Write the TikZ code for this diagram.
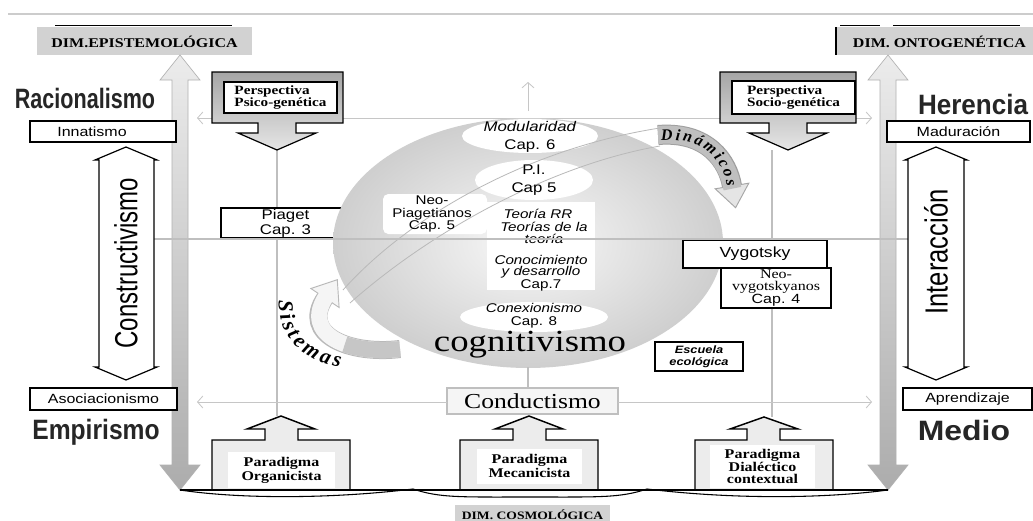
\documentclass[tikz,border=0pt]{standalone}
\usepackage{fontspec}
\setmainfont{Liberation Serif}
\setsansfont{Liberation Sans}
\usepackage{graphicx}
\usetikzlibrary{arrows.meta,decorations.text,shapes.geometric}
\newcommand\sx[1]{\scalebox{1.2}[1]{#1}}
\newcommand\fs[2]{\fontsize{#1}{#2}\selectfont}
\begin{document}
\begin{tikzpicture}[x=0.75pt,y=-0.75pt,
  every node/.style={inner sep=0pt,outer sep=0pt,align=center},
  lbox/.style={draw=black,fill=white,line width=0.9pt},
  dimbox/.style={fill=gray!35},
  dimtxt/.style={font=\rmfamily\bfseries\fs{10}{10}},
  gline/.style={draw=gray!50,line width=1.2pt},
  thinline/.style={draw=gray!50,line width=0.8pt},
  axisline/.style={draw=gray!45,line width=0.6pt},
  barbs/.style={arrows={Straight Barb[length=4pt,width=9pt]-Straight Barb[length=4pt,width=9pt]}},
  barbend/.style={arrows={-Straight Barb[length=4pt,width=9pt]}},
  bigarrow/.style={top color=gray!15,bottom color=gray!65,draw=gray!60,line width=0.5pt},
  outarrow/.style={draw=black,fill=white,line width=0.9pt},
  callout/.style={top color=gray!70,bottom color=gray!20,draw=black,line width=0.9pt},
  pblock/.style={draw=black,fill=gray!15,line width=1.1pt},
  head/.style={font=\sffamily\bfseries\fs{21}{21},text=black!85},
  ptxt/.style={font=\rmfamily\bfseries\fs{10}{10.5}},
  sans/.style={font=\sffamily\fs{10}{10}},
]
\useasboundingbox (0,0) rectangle (1033,521);
\fill[white] (0,0) rectangle (1033,521);

% top rule
\coordinate (tl) at (8,14); \coordinate (tr) at (1033,14);
\draw[gray!40,line width=1.3pt] (tl) -- (tr);

% dimension boxes
\node[dimbox,minimum width=161.25pt,minimum height=21pt] (epis) at (144.5,41) {};
\node[dimtxt] (epist) at (144.5,41.5) {\sx{DIM.EPISTEMOLÓGICA}};
\coordinate (ea) at (55,25); \coordinate (eb) at (232,25);
\draw[line width=0.6pt] (ea) -- (eb);
\node[dimbox,minimum width=147.75pt,minimum height=21pt] (onto) at (934.5,41) {};
\draw[black,line width=1.5pt] (onto.north west) -- (onto.south west);
\node[dimtxt] (ontot) at (939.5,41.5) {\sx{DIM. ONTOGENÉTICA}};
\coordinate (oa) at (840,25); \coordinate (ob) at (880,25);
\coordinate (oc) at (893,25); \coordinate (od) at (1020,25);
\draw[line width=0.6pt] (oa) -- (ob) (oc) -- (od);

% big grey double arrows
\draw[bigarrow] (180,55) -- (200,80) -- (188,80) -- (188,465) -- (200,465) -- (180,490) -- (160,465) -- (172,465) -- (172,80) -- (160,80) -- cycle;
\draw[bigarrow] (888,55) -- (908,80) -- (896,80) -- (896,465) -- (908,465) -- (888,490) -- (868,465) -- (880,465) -- (880,80) -- (868,80) -- cycle;

% axis lines
\coordinate (h1l) at (197,118); \coordinate (h1r) at (872,118);
\draw[axisline,barbs] (h1l) -- (h1r);
\coordinate (upb) at (528,111); \coordinate (upt) at (528,82);
\draw[axisline,barbend] (upb) -- (upt);
\coordinate (h3l) at (197,402); \coordinate (h3r) at (872,402);

% vertical lines
\coordinate (psitip) at (277,150); \coordinate (orgtop) at (277,416);
\draw[thinline] (psitip) -- (orgtop);
\coordinate (soctip) at (772,150); \coordinate (dialtop) at (772,417);
\draw[thinline] (soctip) -- (dialtop);

% Piaget
\node[lbox,minimum width=96.75pt,minimum height=22.5pt,font=\sffamily\fs{10.5}{11.3}] (piag) at (285.5,223) {\sx{Piaget}\\\sx{Cap. 3}};

% central ellipse
\shade[inner color=gray!5,outer color=gray!38] (528,243) ellipse [x radius=195,y radius=125];

% Sistemas arrow
\coordinate (s0) at (400,349); \coordinate (s1) at (325,298);
\draw[gray!55,line width=13.5pt] (s0) .. controls (350,355) and (300,335) .. (s1);
\draw[fill=gray!8,draw=gray!55,line width=0.7pt] (310.9,288.5) -- (337.3,279.7) -- (339.1,307.5) -- cycle;
\draw[gray!8,line width=12pt,shorten >=-2pt] (s0) .. controls (350,355) and (300,335) .. (s1);
\draw[gray!45,line width=12pt] (400,349) .. controls (380,351.4) and (360,349.6) .. (344.8,344.3);
\path[decorate,decoration={text along path,text align=fit to path,text={|\rmfamily\bfseries\itshape\fs{16}{16}|Sistemas}}] (279,300) .. controls (277,332) and (298,360) .. (340,367);

% Dinamicos arrow
\coordinate (d0) at (658,135); \coordinate (d1) at (732,186);
\draw[gray!75,line width=15pt] (d0) .. controls (708,131) and (728,162) .. (d1);
\draw[fill=gray!20,draw=gray!70,line width=0.7pt] (715.2,188.8) -- (735.6,207.7) -- (748.8,183.2) -- cycle;
\draw[gray!50,line width=13.5pt,shorten >=-2pt] (d0) .. controls (708,131) and (728,162) .. (d1);
\path[decorate,decoration={text along path,text align=fit to path,raise=-4pt,text={|\rmfamily\bfseries\itshape\fs{12}{12}|Dinámicos}}] (661,135) .. controls (708,131) and (729,160) .. (732,186);

% white shapes inside
\node[ellipse,fill=white,minimum width=102pt,minimum height=25.5pt] (modu) at (530,136) {};
\node[ellipse,fill=white,minimum width=88.5pt,minimum height=30pt] (pi) at (534,180) {};
\node[fill=white,rounded corners=4pt,minimum width=78pt,minimum height=30pt] (neop) at (435,214) {};
\node[fill=white,minimum width=81pt,minimum height=66pt] (teor) at (541,246) {};
\node[ellipse,fill=white,minimum width=111pt,minimum height=22.5pt] (conx) at (534,317) {};

% orbit lines
\coordinate (oa1) at (343,290); \coordinate (oa2) at (660,128);
\coordinate (ob1) at (350,303); \coordinate (ob2) at (660,146);
\draw[gray!55,line width=0.6pt] (oa1) .. controls (410,215) and (530,148) .. (oa2);
\draw[gray!55,line width=0.6pt] (ob1) .. controls (430,232) and (550,165) .. (ob2);

% texts in the ellipse
\node[font=\sffamily\fs{10.5}{14}] (modut) at (530,137) {\sx{\textit{Modularidad}}\\\sx{Cap. 6}};
\node[font=\sffamily\fs{10.5}{14}] (pit) at (534,180) {\sx{P.I.}\\\sx{Cap 5}};
\node[font=\sffamily\fs{9.5}{9.5}] (neopt) at (432,214) {\sx{Neo-}\\\sx{Piagetianos}\\\sx{Cap. 5}};
\node[font=\sffamily\itshape\fs{9.5}{9.5}] (teort1) at (538,214) {\sx{Teoría RR}};
\node[font=\sffamily\itshape\fs{9.5}{9.5}] (teort2) at (544,233) {\sx{Teorías de la}\\\sx{teoría}};
\node[font=\sffamily\fs{9.5}{8.5}] (conoc) at (541,273) {\sx{\textit{Conocimiento}}\\\sx{\textit{y desarrollo}}\\\sx{Cap.7}};
\node[font=\sffamily\fs{9.5}{9.5}] (conext) at (534,316) {\sx{\textit{Conexionismo}}\\\sx{Cap. 8}};
\node[font=\rmfamily\fs{23}{23},anchor=base] (cog) at (530,351) {\sx{cognitivismo}};

% right boxes
\node[lbox,minimum width=108pt,minimum height=21pt,font=\sffamily\fs{11}{11}] (vygo) at (755,254) {\sx{Vygotsky}};
\node[lbox,minimum width=82.5pt,minimum height=30pt,font=\rmfamily\fs{10}{9}] (neov) at (776,288) {\sx{Neo-}\\\sx{vygotskyanos}\\{\sffamily\sx{Cap. 4}}};
\node[lbox,line width=1.4pt,minimum width=66pt,minimum height=21.75pt,font=\sffamily\bfseries\itshape\fs{8}{9}] (escu) at (699,356.5) {\sx{Escuela}\\\sx{ecológica}};

% middle line
\coordinate (h2l) at (154,239); \coordinate (h2r) at (908,239);
\draw[gline] (h2l) -- (h2r);

% Conductismo
\node[draw=gray!50,fill=gray!8,line width=0.8pt,minimum width=128.25pt,minimum height=19.5pt,font=\rmfamily\fs{16}{16}] (cond) at (532.5,401) {\sx{Conductismo}};
\coordinate (cogb) at (528,367);
\draw[thinline] (cogb) -- (cogb |- cond.north);
\draw[axisline,barbend] (h3l -| cond.west) -- (h3l);
\draw[axisline,barbend] (h3r -| cond.east) -- (h3r);

% perspective callouts
\draw[callout] (212,72) -- (343,72) -- (343,123) -- (296,123) -- (296,133) -- (316,133) -- (277,150) -- (238,133) -- (258,133) -- (258,123) -- (212,123) -- cycle;
\node[lbox,minimum width=84.75pt,minimum height=23.25pt,font=\rmfamily\bfseries\fs{9.5}{9},align=left] (psi) at (280.5,97.5) {\sx{Perspectiva}\\\sx{Psico-genética}};
\draw[callout] (720,72) -- (856,72) -- (856,123) -- (807,123) -- (807,133) -- (827,133) -- (788,150) -- (749,133) -- (769,133) -- (769,123) -- (720,123) -- cycle;
\node[lbox,minimum width=92.25pt,minimum height=24.75pt,font=\rmfamily\bfseries\fs{9.5}{9},align=left] (soc) at (793.5,97.5) {\sx{Perspectiva}\\\sx{Socio-genética}};

% paradigm blocks
\draw[pblock] (212,490) -- (212,440) -- (265,440) -- (265,429) -- (247,429) -- (281,416) -- (315,429) -- (298,429) -- (298,440) -- (350,440) -- (350,490) -- cycle;
\node[fill=white,minimum width=80.25pt,minimum height=27pt,ptxt] (org) at (281.5,470) {\sx{Paradigma}\\\sx{Organicista}};
\draw[pblock] (460,490) -- (460,440) -- (513,440) -- (513,429) -- (495,429) -- (529,416) -- (563,429) -- (546,429) -- (546,440) -- (598,440) -- (598,490) -- cycle;
\node[fill=white,minimum width=78.75pt,minimum height=26.25pt,ptxt] (mec) at (529.5,466) {\sx{Paradigma}\\\sx{Mecanicista}};
\draw[pblock] (695,490) -- (695,440) -- (747,440) -- (747,429) -- (730,429) -- (764,417) -- (798,429) -- (780,429) -- (780,440) -- (833,440) -- (833,490) -- cycle;
\node[fill=white,minimum width=78.75pt,minimum height=32.25pt,ptxt,font=\rmfamily\bfseries\fs{10}{9}] (dial) at (762.5,466.5) {\sx{Paradigma}\\\sx{Dialéctico}\\\sx{contextual}};

% bottom brace
\coordinate (bl) at (180,490); \coordinate (br) at (888,490);
\draw[line width=0.8pt] (bl) -- (br);
\draw[line width=0.8pt] (bl) .. controls (240,499) and (330,499) .. (413,489) .. controls (440,498) and (460,497) .. (530,497) .. controls (600,497) and (620,498) .. (647,489) .. controls (730,499) and (820,499) .. (br);
\node[dimbox,minimum width=116.25pt,minimum height=18pt] (cosmo) at (532.5,517) {};
\node[font=\rmfamily\bfseries\fs{8.5}{8.5}] (cosmot) at (532.5,514.5) {\sx{DIM. COSMOLÓGICA}};

% outline double arrows
\draw[outarrow] (126,147) -- (157,160) -- (154,160) -- (154,367) -- (157,367) -- (126,380) -- (95,367) -- (99,367) -- (99,160) -- (95,160) -- cycle;
\node[rotate=90,font=\sffamily\fs{24}{24}] (constr) at (126,263) {\scalebox{0.75}[1]{Constructivismo}};
\draw[outarrow] (936,147) -- (967,160) -- (964,160) -- (964,367) -- (967,367) -- (936,380) -- (905,367) -- (908,367) -- (908,160) -- (905,160) -- cycle;
\node[rotate=90,font=\sffamily\fs{24}{24}] (inter) at (936,252) {\scalebox{0.8}[1]{Interacción}};

% side label boxes
\node[lbox,minimum width=109.5pt,minimum height=15.75pt] (innat) at (103,131.5) {};
\node[sans] (innatt) at (92,131.5) {\sx{Innatismo}};
\node[lbox,minimum width=110.25pt,minimum height=16.5pt,sans] (asoc) at (103.5,399) {\sx{Asociacionismo}};
\node[lbox,minimum width=107.25pt,minimum height=15.75pt,sans] (madu) at (958.5,131.5) {\sx{Maduración}};
\node[lbox,minimum width=96.75pt,minimum height=16.5pt,sans] (apre) at (967.5,399) {\sx{Aprendizaje}};

% headings
\node[head] (rac) at (85,98) {\scalebox{0.77}[1]{Racionalismo}};
\node[head] (her) at (973,104) {\scalebox{0.93}[1]{Herencia}};
\node[head] (emp) at (96,432) {\scalebox{0.88}[1]{Empirismo}};
\node[head] (med) at (964,430) {\scalebox{1.14}[1]{Medio}};
\end{tikzpicture}
\end{document}
